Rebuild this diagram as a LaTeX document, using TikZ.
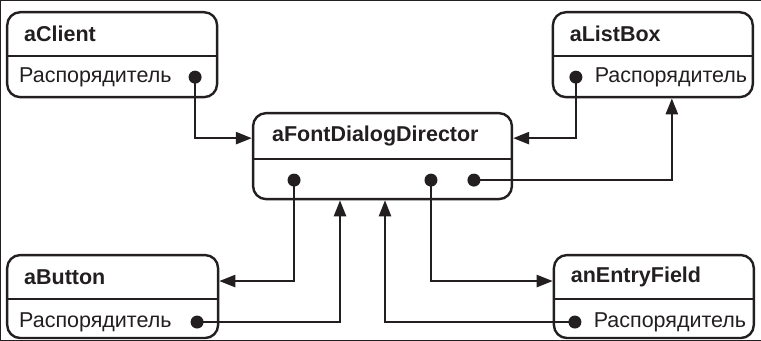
\documentclass[tikz,border=0pt]{standalone}
\usepackage{fontspec}
\setmainfont{Liberation Sans}
\usetikzlibrary{arrows.meta, positioning, calc}
\definecolor{inkline}{HTML}{231F20}

\begin{document}
\begin{tikzpicture}[
    x=1pt, y=-1pt,
    every path/.style={draw=inkline},
    objbox/.style={rectangle, draw=inkline, line width=2.4pt, rounded corners=13pt,
                   minimum height=85pt, inner sep=0pt},
    objtitle/.style={anchor=west, inner sep=0pt, text=inkline,
                     font=\fontsize{21.5}{24}\selectfont\bfseries},
    objattr/.style={anchor=west, inner sep=0pt, text=inkline,
                    font=\fontsize{21.5}{24}\selectfont},
    refdot/.style={circle, fill=inkline, draw=none, inner sep=0pt, minimum size=13pt},
    arrow/.style={-{Triangle[length=16pt, width=12pt]}, line width=2.4pt},
    divider/.style={line width=2.4pt},
]
  \useasboundingbox (0,0) rectangle (761,340);

  % objects
  \node[objbox, minimum width=210pt] (client) at (112,54.5) {};
  \node[objbox, minimum width=200pt] (listbox) at (653,54.5) {};
  \node[objbox, minimum width=259pt, minimum height=86pt] (director) at (382.5,156) {};
  \node[objbox, minimum width=211pt, minimum height=83pt] (button) at (112.5,296.5) {};
  \node[objbox, minimum width=200pt, minimum height=83pt] (entry) at (654,296.5) {};

  % dividers
  \draw[divider] ($(client.north west)+(0,45)$) -- ($(client.north east)+(0,45)$);
  \draw[divider] ($(listbox.north west)+(0,45)$) -- ($(listbox.north east)+(0,45)$);
  \draw[divider] ($(director.north west)+(0,47)$) -- ($(director.north east)+(0,47)$);
  \draw[divider] ($(button.north west)+(0,45)$) -- ($(button.north east)+(0,45)$);
  \draw[divider] ($(entry.north west)+(0,45)$) -- ($(entry.north east)+(0,45)$);

  % titles
  \node[objtitle] (clienttitle) at ($(client.north west)+(18,23)$) {aClient};
  \node[objtitle] (listboxtitle) at ($(listbox.north west)+(18,23)$) {aListBox};
  \node[objtitle] (directortitle) at ($(director.north west)+(20,24)$) {aFontDialogDirector};
  \node[objtitle] (buttontitle) at ($(button.north west)+(18,23)$) {aButton};
  \node[objtitle] (entrytitle) at ($(entry.north west)+(18,23)$) {anEntryField};

  % references
  \node[refdot] (clientdot) at (195,77) {};
  \node[refdot] (listdot) at (576,77) {};
  \node[refdot] (dirdota) at (294,180) {};
  \node[refdot] (dirdotb) at (431,180) {};
  \node[refdot] (dirdotc) at (474,180) {};
  \node[refdot] (buttondot) at (197,322) {};
  \node[refdot] (entrydot) at (575,322) {};

  \node[objattr] (clientattr) at (client.west |- clientdot) {\hspace*{13pt}Распорядитель};
  \node[objattr, right=12pt of listdot] (listattr) {Распорядитель};
  \node[objattr] (buttonattr) at (button.west |- buttondot) {\hspace*{13pt}Распорядитель};
  \node[objattr, right=12pt of entrydot] (entryattr) {Распорядитель};

  % connectors
  \draw[arrow] (clientdot.center) |- ($(director.west)+(0,-18)$);
  \draw[arrow] (listdot.center) |- ($(director.east)+(0,-18)$);
  \draw[arrow] (dirdotc.center) -| ($(listbox.south)+(19,0)$);
  \draw[arrow] (dirdota.center) |- ($(button.east)+(0,-15.5)$);
  \draw[arrow] (buttondot.center) -| ($(director.south)+(-42.5,0)$);
  \draw[arrow] (dirdotb.center) |- ($(entry.west)+(0,-15.5)$);
  \draw[arrow] (entrydot.center) -| ($(director.south)+(2.5,0)$);
\end{tikzpicture}
\end{document}
